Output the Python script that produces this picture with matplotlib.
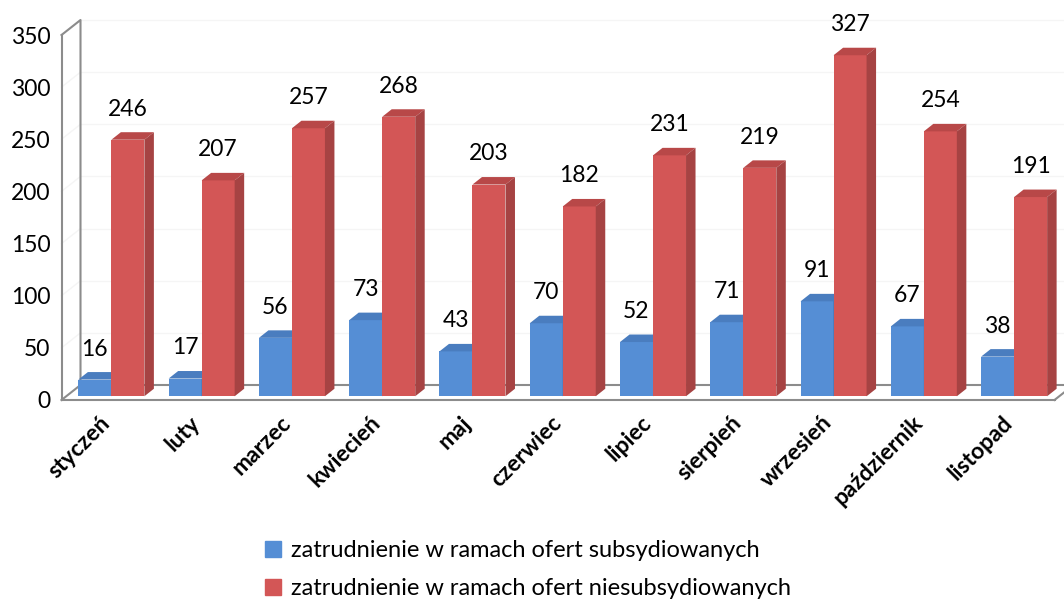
import numpy as np
import matplotlib.pyplot as plt
from matplotlib.patches import Polygon, Patch
from matplotlib.transforms import ScaledTranslation

plt.rcParams['font.family'] = ['Lato', 'DejaVu Sans']

months = ["styczeń", "luty", "marzec", "kwiecień", "maj", "czerwiec",
          "lipiec", "sierpień", "wrzesień", "październik", "listopad"]
subsidised = [16, 17, 56, 73, 43, 70, 52, 71, 91, 67, 38]
unsubsidised = [246, 207, 257, 268, 203, 182, 231, 219, 327, 254, 191]
series_names = ["zatrudnienie w ramach ofert subsydiowanych",
                "zatrudnienie w ramach ofert niesubsydiowanych"]

# colours (front, top, side) for the fake 3d look
blue = ("#558ed5", "#4a7dbf", "#3f6aa3")
red = ("#d35656", "#b84848", "#a64343")
wall_col = "#8c8c8c"

fig = plt.figure(figsize=(10.64, 6.04), dpi=100)
ax = fig.add_axes([61.5 / 1064, 204 / 604, 993 / 1064, 365 / 604])
ax.set_xlim(-0.5, len(months) - 0.5)
ax.set_ylim(0, 350)

# depth of the wall / floor in data units
px_x = 993 / len(months)
px_y = 365 / 350
wdx, wdy = 19 / px_x, 15 / px_y
# bars sit in the middle half of the depth
bdx, bdy = wdx / 2, wdy / 2
sx, sy = wdx / 4, wdy / 4
w = 33 / px_x

x = np.arange(len(months))
x0, x1 = -0.5, len(months) - 0.5

# back wall gridlines (very faint)
for t in range(50, 351, 50):
    ax.plot([x0 + wdx, x1 + wdx], [t + wdy, t + wdy], color="#f5f5f5", lw=1,
            zorder=0, clip_on=False)
    ax.plot([x0, x0 + wdx], [t, t + wdy], color="#f5f5f5", lw=1,
            zorder=0, clip_on=False)

# side wall and floor outline
ax.plot([x0, x0 + wdx, x0 + wdx], [350, 350 + wdy, wdy], color=wall_col,
        lw=1.5, zorder=1, clip_on=False)
ax.plot([x0 + wdx, x1 + wdx], [wdy, wdy], color=wall_col, lw=1.5, zorder=1,
        clip_on=False)
ax.plot([x0, x0 + wdx], [0, wdy], color=wall_col, lw=1.5, zorder=1,
        clip_on=False)
ax.plot([x1, x1 + wdx], [0, wdy], color=wall_col, lw=1.5, zorder=1,
        clip_on=False)


def draw_series(lefts, vals, cols, z):
    ax.bar(lefts, vals, w, bottom=sy, align="edge", color=cols[0],
           zorder=z, linewidth=0)
    for l, v in zip(lefts, vals):
        top = sy + v
        r = l + w
        ax.add_patch(Polygon([(l, top), (r, top), (r + bdx, top + bdy),
                              (l + bdx, top + bdy)], closed=True,
                             facecolor=cols[1], lw=0, zorder=z + 0.1,
                             clip_on=False))
        ax.add_patch(Polygon([(r, sy), (r, top), (r + bdx, top + bdy),
                              (r + bdx, sy + bdy)], closed=True,
                             facecolor=cols[2], lw=0, zorder=z + 0.1,
                             clip_on=False))
        ax.annotate(str(v), (l + w / 2, top), xytext=(0, 22),
                    textcoords="offset points", ha="center", va="center",
                    fontsize=16.5, zorder=6)


draw_series(x + sx - w, subsidised, blue, 2)
draw_series(x + sx, unsubsidised, red, 3)

ax.set_yticks(range(0, 351, 50))
ax.set_xticks(x)
ax.set_xticklabels(months, rotation=45, ha="right", va="center",
                   rotation_mode="anchor", fontsize=16.5, fontweight="bold")
offset = ScaledTranslation(0.12, 0, fig.dpi_scale_trans)
for lab in ax.get_xticklabels():
    lab.set_transform(lab.get_transform() + offset)
ax.tick_params(axis="x", length=0, pad=14)
ax.tick_params(axis="y", length=0, pad=8, labelsize=16.5)

for side in ["top", "right"]:
    ax.spines[side].set_visible(False)
for side in ["left", "bottom"]:
    ax.spines[side].set_color(wall_col)
    ax.spines[side].set_linewidth(1.5)
    ax.spines[side].set_zorder(1)

handles = [Patch(color=blue[0]), Patch(color=red[0])]
fig.legend(handles, series_names, loc="upper left",
           bbox_to_anchor=(244 / 1064, 1 - 519 / 604), frameon=False,
           fontsize=17, handlelength=0.65, handleheight=0.65,
           handletextpad=0.45, labelspacing=0.72)

fig.savefig("out.png", dpi=100)
